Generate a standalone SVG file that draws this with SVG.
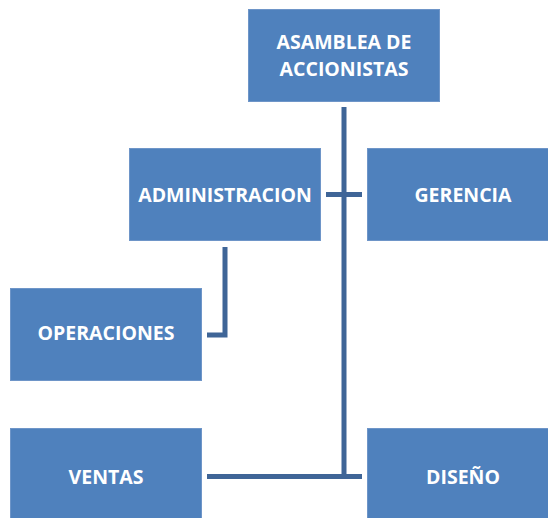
<svg xmlns="http://www.w3.org/2000/svg" width="548" height="518" viewBox="0 0 548 518">
<style>
.box{fill:#4F81BD;stroke:#6E95C8;stroke-width:1}
.lbl{font-family:"Open Sans","Liberation Sans",sans-serif;font-weight:bold;font-size:19.5px;fill:#FFFFFF;text-anchor:middle}
.con{fill:none;stroke:#3F6597;stroke-width:5}
</style>
<rect width="548" height="518" fill="#FFFFFF"/>
<g id="connectors">
<path class="con" d="M344 107 V477"/>
<path class="con" d="M326 194.5 H362"/>
<path class="con" d="M207 476.5 H362"/>
<path class="con" d="M225 247 V335 H207"/>
</g>
<g id="asamblea">
<rect class="box" x="248.5" y="9.5" width="191" height="92"/>
<text class="lbl" x="344" y="48.5">ASAMBLEA DE</text>
<text class="lbl" x="344" y="75.5" font-size="19">ACCIONISTAS</text>
</g>
<g id="administracion">
<rect class="box" x="129.5" y="148.5" width="191" height="92"/>
<text class="lbl" x="225" y="202">ADMINISTRACION</text>
</g>
<g id="gerencia">
<rect class="box" x="367.5" y="148.5" width="191" height="92"/>
<text class="lbl" x="463" y="202">GERENCIA</text>
</g>
<g id="operaciones">
<rect class="box" x="10.5" y="288.5" width="191" height="92"/>
<text class="lbl" x="106" y="340">OPERACIONES</text>
</g>
<g id="ventas">
<rect class="box" x="10.5" y="428.5" width="191" height="92"/>
<text class="lbl" x="106" y="484">VENTAS</text>
</g>
<g id="diseno">
<rect class="box" x="367.5" y="428.5" width="191" height="92"/>
<text class="lbl" x="463" y="484">DISEÑO</text>
</g>
</svg>
